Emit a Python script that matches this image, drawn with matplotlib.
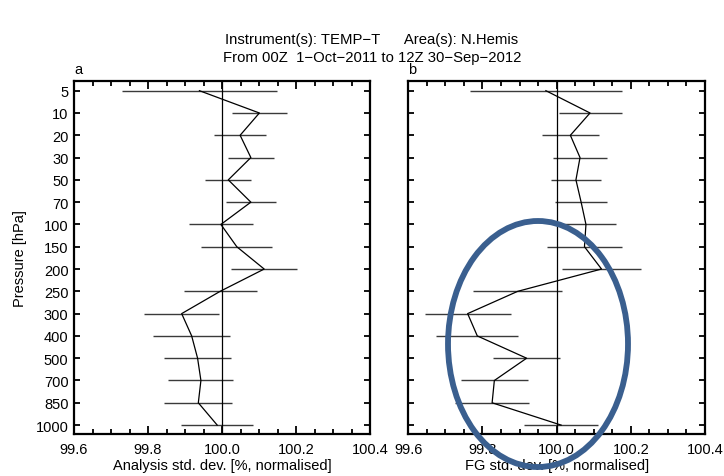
import numpy as np
import matplotlib
matplotlib.use('Agg')
import matplotlib.pyplot as plt
from matplotlib.patches import Ellipse
from matplotlib.ticker import MultipleLocator

plt.rcParams['font.family'] = ['Liberation Sans', 'DejaVu Sans']

levels = ['5', '10', '20', '30', '50', '70', '100', '150', '200', '250',
          '300', '400', '500', '700', '850', '1000']

an_mean = [99.939, 100.101, 100.049, 100.078, 100.017, 100.078, 99.997, 100.040,
           100.114, 99.995, 99.891, 99.918, 99.934, 99.943, 99.936, 99.987]
an_err = [0.21, 0.075, 0.07, 0.062, 0.062, 0.067, 0.087, 0.096,
          0.089, 0.099, 0.101, 0.104, 0.09, 0.088, 0.092, 0.097]

fg_mean = [99.971, 100.090, 100.037, 100.063, 100.052, 100.066, 100.079, 100.075,
           100.121, 99.895, 99.760, 99.786, 99.919, 99.832, 99.826, 100.012]
fg_err = [0.204, 0.085, 0.076, 0.074, 0.068, 0.07, 0.082, 0.1,
          0.107, 0.12, 0.116, 0.11, 0.09, 0.091, 0.099, 0.10]

W, H = 724, 477
fig = plt.figure(figsize=(W / 100, H / 100), dpi=100)

def panel(rect, mean, err, xlabel, letter, ylabels):
    ax = fig.add_axes(rect)
    y = np.arange(len(levels))
    ax.errorbar(mean, y, xerr=err, fmt='none', ecolor='#3a3a3a', elinewidth=1.0, capsize=0)
    ax.plot(mean, y, color='black', lw=0.9)
    ax.axvline(100.0, color='black', lw=0.9)
    ax.set_xlim(99.6, 100.4)
    ax.set_ylim(15.40, -0.435)
    ax.set_yticks(y)
    if ylabels:
        ax.set_yticklabels(levels)
        ax.set_ylabel('Pressure [hPa]', fontsize=10.5, labelpad=6)
    else:
        ax.set_yticklabels([])
    ax.xaxis.set_minor_locator(MultipleLocator(0.05))
    ax.set_xticks([99.6, 99.8, 100.0, 100.2, 100.4])
    ax.set_xticklabels(['99.6', '99.8', '100.0', '100.2', '100.4'])
    ax.tick_params(axis='both', which='both', direction='in', top=True, right=True,
                   width=1.3, labelsize=10.5)
    ax.tick_params(axis='x', which='major', length=6, pad=6)
    ax.tick_params(axis='x', which='minor', length=3.5)
    ax.tick_params(axis='y', which='major', length=4.5, pad=4)
    for s in ax.spines.values():
        s.set_linewidth(1.6)
    ax.set_xlabel(xlabel, fontsize=10.5, labelpad=1)
    ax.text(0.0, 1 + 8 / 353, letter, transform=ax.transAxes, fontsize=10.5,
            ha='left', va='baseline')
    return ax

panel([74 / W, 1 - 435 / H, 296 / W, 353 / H], an_mean, an_err,
      'Analysis std. dev. [%, normalised]', 'a', True)
panel([408.3 / W, 1 - 435 / H, 296.7 / W, 353 / H], fg_mean, fg_err,
      'FG std. dev. [%, normalised]', 'b', False)

fig.text(372 / W, 1 - 44 / H, 'Instrument(s): TEMP\u2212T      Area(s): N.Hemis',
         ha='center', va='baseline', fontsize=10.7)
fig.text(372 / W, 1 - 62 / H, 'From 00Z  1\u2212Oct\u22122011 to 12Z 30\u2212Sep\u22122012',
         ha='center', va='baseline', fontsize=10.7)

# highlight ellipse drawn over panel b
ell = Ellipse((538 / W, 1 - 345 / H), 180 / W, 246 / H, angle=0,
              transform=fig.transFigure, fill=False, edgecolor='#3a5f8f', lw=4.2,
              zorder=10)
fig.patches.append(ell)

fig.savefig('out.png', dpi=100)
